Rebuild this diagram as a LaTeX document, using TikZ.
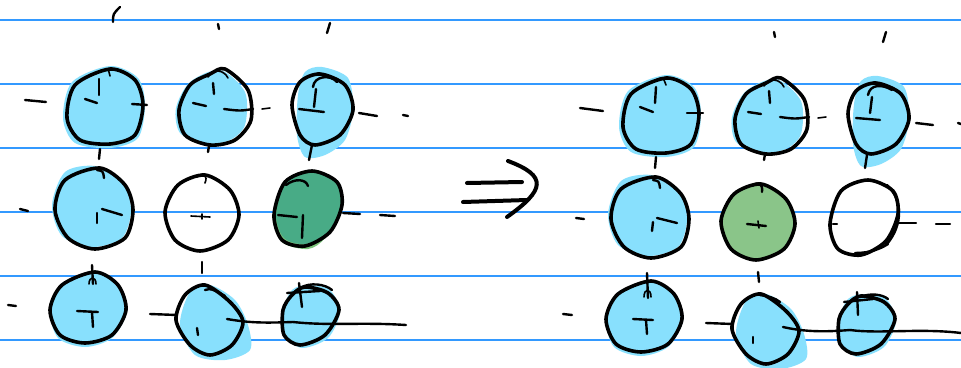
\documentclass[tikz,border=0pt]{standalone}
\begin{document}
\begin{tikzpicture}[x=1pt,y=-1pt,
  rule/.style={draw={rgb,255:red,51;green,153;blue,255},line width=1.2pt},
  bluefill/.style={fill={rgb,255:red,136;green,224;blue,253}},
  outl/.style={draw=black,line width=3.6pt,line join=round},
  pen/.style={draw=black,line width=2.4pt,line cap=round},
  thin/.style={draw=black,line width=1.6pt,line cap=round},
  arr/.style={draw=black,line width=4pt,line cap=round}]
\useasboundingbox[fill=white] (0,0) rectangle (961,367);
% ruled lines
\foreach \yy in {20,84,148,212,276,340} \draw[rule] (0,\yy) -- (961,\yy);

% ================= LEFT GRID =================
% fills
\fill[bluefill] plot[smooth cycle] coordinates {(110,66) (138,78) (145,105) (138,138) (110,148) (75,143) (63,118) (72,82)};
\fill[bluefill] plot[smooth cycle] coordinates {(220,70) (245,92) (245,125) (230,140) (205,144) (180,133) (176,108) (190,82)};
\fill[bluefill] plot[smooth cycle] coordinates {(322,67) (348,78) (353,110) (345,140) (325,155) (305,157) (297,135) (298,95) (305,72)};
\fill[bluefill] plot[smooth cycle] coordinates {(95,166) (122,180) (131,210) (122,238) (92,247) (62,236) (52,205) (65,172)};
\fill[fill={rgb,255:red,124;green,196;blue,123}] plot[smooth cycle] coordinates {(312,173) (335,185) (338,210) (325,238) (308,249) (282,242) (275,215) (282,185)};
\fill[fill={rgb,255:red,72;green,171;blue,134}] plot[smooth cycle] coordinates {(312,171) (337,182) (342,205) (330,232) (305,244) (284,238) (276,215) (286,182)};
\fill[bluefill] plot[smooth cycle] coordinates {(95,273) (120,286) (127,312) (112,338) (85,347) (58,338) (50,310) (62,283)};
\fill[bluefill] plot[smooth cycle] coordinates {(210,285) (235,300) (248,325) (250,350) (225,360) (195,355) (180,325) (190,292)};
\fill[bluefill] plot[smooth cycle] coordinates {(308,285) (330,290) (340,312) (328,338) (302,348) (285,335) (283,310) (292,290)};
% outlines
\draw[outl] plot[smooth cycle] coordinates {(110,69) (135,80) (143,105) (135,135) (110,144) (80,140) (67,118) (75,85)};
\draw[outl] plot[smooth cycle] coordinates {(225,69) (248,90) (251,120) (235,140) (210,145) (185,135) (179,110) (190,85) (210,74)};
\draw[outl] plot[smooth cycle] coordinates {(320,74) (345,85) (353,110) (340,135) (315,145) (300,135) (292,105) (300,82)};
\draw[outl] plot[smooth cycle] coordinates {(100,168) (125,185) (133,210) (125,238) (95,249) (68,238) (55,210) (65,180)};
\draw[outl] plot[smooth cycle] coordinates {(205,175) (230,190) (239,215) (228,240) (200,251) (175,240) (165,212) (178,185)};
\draw[outl] plot[smooth cycle] coordinates {(312,171) (337,182) (342,205) (330,232) (305,246) (282,240) (274,215) (285,182)};
\draw[outl] plot[smooth cycle] coordinates {(95,272) (118,285) (126,310) (112,335) (85,343) (60,335) (50,310) (62,285)};
\draw[outl] plot[smooth cycle] coordinates {(205,285) (230,302) (243,322) (232,345) (210,355) (190,345) (176,320) (185,295)};
\draw[outl] plot[smooth cycle] coordinates {(305,287) (328,293) (339,310) (325,335) (300,345) (284,335) (283,310) (292,295)};
% marks row 1
\draw[pen] (113,22) .. controls (113,14) .. (120,7);
\draw[pen] (218,24) -- (219,29);
\draw[pen] (330,23) -- (327,33);
\draw[pen] (25,100) -- (46,102);
\draw[pen] (99,79) -- (99,95);
\draw[pen] (85,99) -- (97,103);
\draw[pen] (132,104) -- (147,105);
\draw[thin] (104,70) .. controls (108,68) .. (110,76);
\draw[pen] (100,149) -- (99,159);
\draw[pen] (213,83) -- (214,94);
\draw[pen] (193,103) -- (206,106);
\draw[pen] (224,109) .. controls (240,111) .. (253,109);
\draw[thin] (262,109) -- (270,108);
\draw[thin] (208,77) .. controls (214,68) and (224,70) .. (228,78);
\draw[pen] (209,146) -- (208,152);
\draw[pen] (316,89) -- (314,107);
\draw[pen] (299,109) -- (324,112);
\draw[pen] (313,87) .. controls (314,76) and (330,74) .. (337,82);
\draw[pen] (359,113) -- (377,116);
\draw[pen] (403,115) -- (408,116);
\draw[pen] (312,145) -- (309,160);
% marks row 2
\draw[pen] (20,209) -- (28,211);
\draw[pen] (97,213) -- (97,223);
\draw[pen] (102,209) -- (122,215);
\draw[pen] (97,170) .. controls (103,171) .. (104,178);
\draw[thin] (191,216) -- (210,217);
\draw[thin] (202,214) -- (202,219);
\draw[thin] (197,177) .. controls (204,172) and (208,176) .. (205,183);
\draw[pen] (278,215) -- (297,217);
\draw[pen] (303,215) -- (302,238);
\draw[pen] (286,185) .. controls (295,178) and (306,179) .. (308,186);
\draw[pen] (343,213) -- (360,214);
\draw[pen] (380,215) -- (395,216);
\draw[pen] (202,262) -- (202,273);
% marks row 3
\draw[pen] (8,305) -- (16,306);
\draw[pen] (92,265) -- (93,284);
\draw[thin] (89,284) .. controls (89,276) and (96,276) .. (96,284);
\draw[pen] (77,311) -- (98,312);
\draw[pen] (92,312) -- (93,327);
\draw[pen] (150,314) -- (177,315);
\draw[pen] (227,319) .. controls (250,323) and (265,323) .. (293,322);
\draw[pen] (293,322) .. controls (330,326) and (360,322) .. (406,325);
\draw[pen] (197,328) -- (198,335);
\draw[pen] (205,290) .. controls (210,287) and (218,292) .. (225,296);
\draw[pen] (287,293) -- (320,291);
\draw[pen] (299,283) -- (302,307);
\draw[pen] (300,288) .. controls (310,282) and (325,284) .. (332,290);

% ================= ARROW =================
\draw[arr] (467,183) -- (522,182);
\draw[arr] (463,202) -- (527,200);
\draw[arr] (508,161) .. controls (548,176) and (545,190) .. (507,217);

% ================= RIGHT GRID =================
\begin{scope}[shift={(556,9)}]
\fill[bluefill] plot[smooth cycle] coordinates {(110,66) (138,78) (145,105) (138,138) (110,148) (75,143) (63,118) (72,82)};
\fill[bluefill] plot[smooth cycle] coordinates {(220,70) (245,92) (245,125) (230,140) (205,144) (180,133) (176,108) (190,82)};
\fill[bluefill] plot[smooth cycle] coordinates {(322,67) (348,78) (353,110) (345,140) (325,155) (305,157) (297,135) (298,95) (305,72)};
\fill[bluefill] plot[smooth cycle] coordinates {(95,166) (122,180) (131,210) (122,238) (92,247) (62,236) (52,205) (65,172)};
\fill[fill={rgb,255:red,138;green,197;blue,137}] plot[smooth cycle] coordinates {(205,175) (230,190) (239,215) (228,240) (200,251) (175,240) (165,212) (178,185)};
\fill[bluefill] plot[smooth cycle] coordinates {(95,273) (120,286) (127,312) (112,338) (85,347) (58,338) (50,310) (62,283)};
\fill[bluefill] plot[smooth cycle] coordinates {(210,285) (235,300) (248,325) (250,350) (225,360) (195,355) (180,325) (190,292)};
\fill[bluefill] plot[smooth cycle] coordinates {(308,285) (330,290) (340,312) (328,338) (302,348) (285,335) (283,310) (292,290)};
\draw[outl] plot[smooth cycle] coordinates {(110,69) (135,80) (143,105) (135,135) (110,144) (80,140) (67,118) (75,85)};
\draw[outl] plot[smooth cycle] coordinates {(225,69) (248,90) (251,120) (235,140) (210,145) (185,135) (179,110) (190,85) (210,74)};
\draw[outl] plot[smooth cycle] coordinates {(320,74) (345,85) (353,110) (340,135) (315,145) (300,135) (292,105) (300,82)};
\draw[outl] plot[smooth cycle] coordinates {(100,168) (125,185) (133,210) (125,238) (95,249) (68,238) (55,210) (65,180)};
\draw[outl] plot[smooth cycle] coordinates {(205,175) (230,190) (239,215) (228,240) (200,251) (175,240) (165,212) (178,185)};
\draw[outl] plot[smooth cycle] coordinates {(312,171) (337,182) (342,205) (330,232) (305,246) (282,240) (274,215) (285,182)};
\draw[outl] plot[smooth cycle] coordinates {(95,272) (118,285) (126,310) (112,335) (85,343) (60,335) (50,310) (62,285)};
\draw[outl] plot[smooth cycle] coordinates {(205,285) (230,302) (243,322) (232,345) (210,355) (190,345) (176,320) (185,295)};
\draw[outl] plot[smooth cycle] coordinates {(305,287) (328,293) (339,310) (325,335) (300,345) (284,335) (283,310) (292,295)};
\end{scope}
% marks row 1
\draw[pen] (580,108) -- (603,111);
\draw[pen] (656,87) -- (655,103);
\draw[pen] (640,107) -- (653,112);
\draw[pen] (687,113) -- (703,113);
\draw[thin] (658,79) .. controls (663,77) .. (666,85);
\draw[pen] (656,157) -- (655,168);
\draw[pen] (769,91) -- (770,103);
\draw[pen] (748,112) -- (761,114);
\draw[pen] (780,117) .. controls (795,119) .. (809,117);
\draw[thin] (818,118) -- (826,117);
\draw[thin] (764,86) .. controls (770,77) and (780,79) .. (784,87);
\draw[pen] (774,32) -- (775,37);
\draw[pen] (765,154) -- (764,160);
\draw[pen] (872,97) -- (870,113);
\draw[pen] (856,118) -- (880,120);
\draw[pen] (868,95) .. controls (870,84) and (882,84) .. (892,90);
\draw[pen] (886,32) -- (883,42);
\draw[pen] (916,123) -- (933,125);
\draw[pen] (958,123) -- (961,124);
\draw[pen] (867,155) -- (865,168);
% marks row 2
\draw[pen] (576,218) -- (584,219);
\draw[pen] (653,222) -- (652,231);
\draw[pen] (657,218) -- (677,223);
\draw[pen] (653,180) .. controls (659,181) .. (660,188);
\draw[pen] (747,224) -- (766,226);
\draw[thin] (758,221) -- (759,228);
\draw[pen] (752,186) .. controls (758,181) and (763,183) .. (762,192);
\draw[pen] (833,224) -- (837,224);
\draw[pen] (887,185) .. controls (903,200) and (903,225) .. (887,244);
\draw[pen] (855,253) .. controls (870,253) and (880,249) .. (888,244);
\draw[pen] (898,223) -- (916,223);
\draw[pen] (936,224) -- (950,224);
\draw[pen] (758,272) -- (759,282);
% marks row 3
\draw[pen] (563,314) -- (572,315);
\draw[pen] (647,273) -- (648,298);
\draw[thin] (644,297) .. controls (644,288) and (651,288) .. (651,297);
\draw[pen] (633,319) -- (653,320);
\draw[pen] (646,320) -- (647,334);
\draw[pen] (706,323) -- (733,324);
\draw[pen] (783,327) .. controls (805,332) and (825,332) .. (850,330);
\draw[pen] (850,330) .. controls (880,334) and (920,328) .. (961,333);
\draw[pen] (753,337) -- (753,343);
\draw[pen] (760,295) .. controls (768,296) and (775,298) .. (780,302);
\draw[pen] (844,302) -- (873,299);
\draw[pen] (857,292) -- (858,315);
\draw[pen] (860,297) .. controls (870,293) and (882,294) .. (888,299);
\end{tikzpicture}
\end{document}
